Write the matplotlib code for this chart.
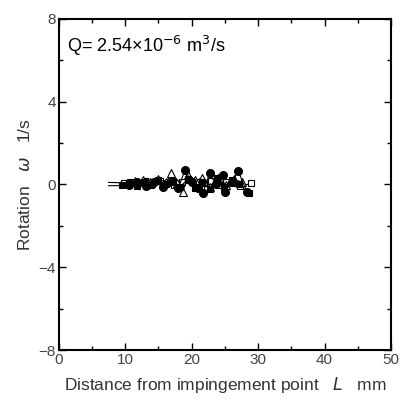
import matplotlib.pyplot as plt
from matplotlib.ticker import MultipleLocator

plt.rcParams['font.family'] = ['Liberation Sans', 'DejaVu Sans']

# distance L (mm) and rotation omega (1/s) for each series
x_sq = [7.5, 9.8, 10.8, 11.9, 13.0, 14.1, 15.2, 16.3, 17.4, 18.5, 19.6, 20.7, 21.8,
        22.9, 24.0, 25.1, 26.2, 27.3, 29.0]
y_sq = [0.1, 0.08, 0.12, 0.05, 0.15, 0.02, 0.18, 0.08, -0.05, 0.12, 0.2, -0.1, 0.08,
        0.15, -0.02, 0.1, 0.05, -0.08, 0.05]

x_tri = [10.2, 11.4, 12.6, 13.8, 15.0, 16.2, 16.9, 17.8, 18.7, 19.4, 20.5, 21.6,
         22.8, 24.0, 25.2, 26.4, 27.6]
y_tri = [0.05, 0.15, 0.2, 0.1, 0.25, 0.1, 0.55, 0.05, -0.35, 0.45, 0.2, 0.3,
         -0.1, 0.3, -0.05, 0.25, 0.1]

x_cir = [7.5, 10.5, 11.8, 13.1, 14.4, 15.7, 17.0, 18.0, 19.0, 20.0, 21.0, 21.7,
         22.7, 23.6, 24.7, 25.0, 26.0, 27.0, 28.3]
y_cir = [-0.06, -0.05, 0.1, -0.08, 0.12, -0.1, 0.15, -0.15, 0.7, 0.1, -0.15, -0.4,
         0.55, 0.0, 0.45, -0.35, 0.1, 0.65, -0.35]

x_dia = [9.5, 10.6, 11.7, 12.8, 13.9, 15.0, 16.1, 17.2, 18.3, 19.4, 20.5, 21.6,
         22.7, 23.8, 24.9, 26.0, 27.1, 28.6]
y_dia = [-0.05, 0.05, -0.08, 0.1, -0.05, 0.2, 0.0, 0.15, -0.1, 0.25, -0.15, 0.1,
         -0.2, 0.3, -0.1, 0.2, 0.0, -0.4]

fig, ax = plt.subplots(figsize=(4.2, 4.01), dpi=100)
fig.subplots_adjust(left=0.14, right=0.931, top=0.953, bottom=0.127)

ax.plot(x_sq, y_sq, color='k', lw=0.8, marker='s', ms=5, mfc='white', mec='k',
        mew=0.8, markevery=slice(1, None))
ax.plot(x_tri, y_tri, color='k', lw=0.8, marker='^', ms=6, mfc='white', mec='k', mew=0.8)
ax.plot(x_cir, y_cir, color='k', lw=0.8, marker='o', ms=5.5, mfc='k', mec='k',
        markevery=slice(1, None))
ax.plot(x_dia, y_dia, color='k', lw=0.8, marker='s', ms=4, mfc='k', mec='k', mew=0.8)

ax.set_xlim(0, 50)
ax.set_ylim(-8, 8)
ax.xaxis.set_major_locator(MultipleLocator(10))
ax.xaxis.set_minor_locator(MultipleLocator(5))
ax.yaxis.set_major_locator(MultipleLocator(4))
ax.yaxis.set_minor_locator(MultipleLocator(2))
ax.tick_params(which='both', direction='in', top=True, right=True, colors='k',
               labelcolor='#444444', labelsize=11, pad=2)
ax.tick_params(which='major', length=5, width=1)
ax.tick_params(which='minor', length=3, width=1)
for s in ax.spines.values():
    s.set_linewidth(1.5)

ax.set_xlabel('Distance from impingement point   $\\it{L}$   mm', fontsize=12.5,
              color='#333333', labelpad=6)
ax.set_ylabel('Rotation   $\\it{\\omega}$   1/s', fontsize=12.5, color='#333333', labelpad=4)
ax.text(0.025, 0.955, 'Q= 2.54\u00d710$^{-6}$ m$^{3}$/s', transform=ax.transAxes,
        fontsize=13, va='top', ha='left')

fig.savefig('out.png', dpi=100)
